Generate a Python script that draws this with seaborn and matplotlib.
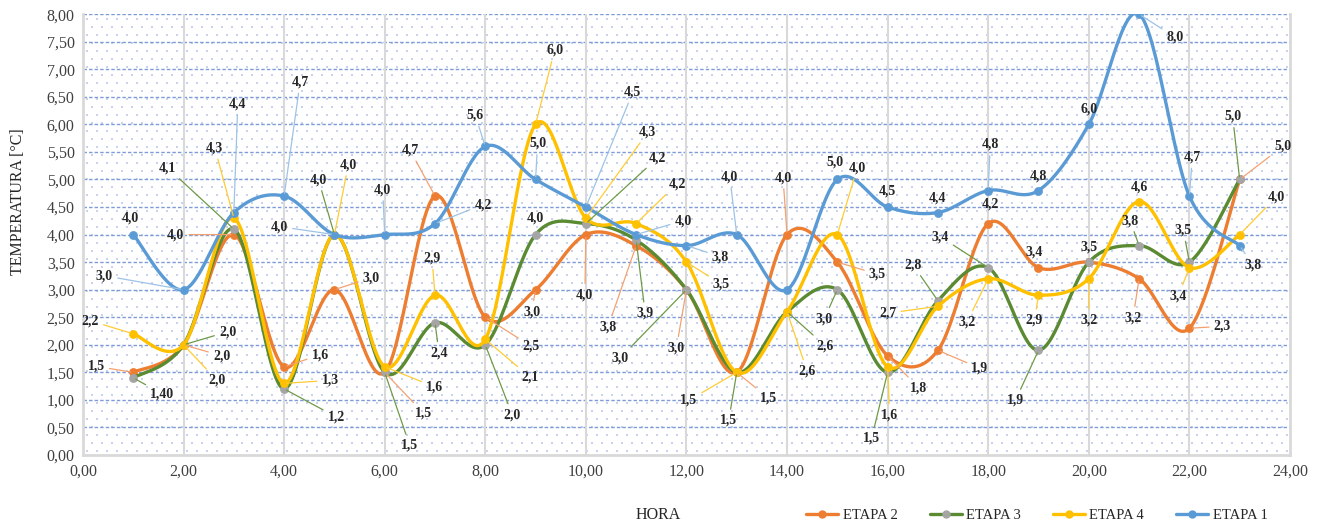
import numpy as np
import pandas as pd
import matplotlib
matplotlib.use("Agg")
import matplotlib.pyplot as plt
from matplotlib.lines import Line2D
from matplotlib.ticker import FuncFormatter, MultipleLocator
import seaborn as sns

# ---- data -------------------------------------------------------------
hours = list(range(1, 24))
etapa_1 = [4.0, 3.0, 4.4, 4.7, 4.0, 4.0, 4.2, 5.6, 5.0, 4.5, 4.0, 3.8,
           4.0, 3.0, 5.0, 4.5, 4.4, 4.8, 4.8, 6.0, 8.0, 4.7, 3.8]
etapa_2 = [1.5, 2.0, 4.0, 1.6, 3.0, 1.5, 4.7, 2.5, 3.0, 4.0, 3.8, 3.0,
           1.5, 4.0, 3.5, 1.8, 1.9, 4.2, 3.4, 3.5, 3.2, 2.3, 5.0]
etapa_3 = [1.40, 2.0, 4.1, 1.2, 4.0, 1.5, 2.4, 2.0, 4.0, 4.2, 3.9, 3.0,
           1.5, 2.6, 3.0, 1.5, 2.8, 3.4, 1.9, 3.5, 3.8, 3.5, 5.0]
etapa_4 = [2.2, 2.0, 4.3, 1.3, 4.0, 1.6, 2.9, 2.1, 6.0, 4.3, 4.2, 3.5,
           1.5, 2.6, 4.0, 1.6, 2.7, 3.2, 2.9, 3.2, 4.6, 3.4, 4.0]
series_names = ["ETAPA 2", "ETAPA 3", "ETAPA 4", "ETAPA 1"]

# ---- styling ----------------------------------------------------------
line_colors = {"ETAPA 1": "#5B9BD5", "ETAPA 2": "#ED7D31",
               "ETAPA 3": "#5A8A32", "ETAPA 4": "#FFC000"}
marker_colors = {"ETAPA 1": "#5B9BD5", "ETAPA 2": "#ED7D31",
                 "ETAPA 3": "#A5A5A5", "ETAPA 4": "#FFC000"}
leader_colors = {"ETAPA 1": "#9DC3E6", "ETAPA 2": "#F4A171",
                 "ETAPA 3": "#6E9A48", "ETAPA 4": "#FFCB33"}

# data-label offsets in pixels (dx, dy up); None = no label
label_offsets = {
    "ETAPA 1": [(-3, 17), (-79, 14), (4, 109), (16, 114), (-55, 8), (-2, 45),
                (48, 19), (-10, 31), (2, 36), (47, 115), (47, 14), (34, -11),
                (-7, 58), None, (-2, 17), (0, 16), (0, 15), (2, 46), (0, 14),
                (0, 15), (36, -23), (3, 39), (13, -19)],
    "ETAPA 2": [(-37, 6), (38, -11), (-58, 0), (36, 12), (37, 12), (39, -41),
                (-25, 46), (46, -29), (-4, -22), (-1, -60), (-28, -81),
                (-10, -58), (32, -26), (-4, 57), (40, -12), (31, -32),
                (42, -18), (2, 20), (-4, 16), None, (-6, -39), (33, 2),
                (43, 33)],
    "ETAPA 3": [(29, -16), (44, 13), (-66, 61), (52, -28), (-16, 55),
                (25, -73), (4, -30), (27, -70), (0, 17), (72, 66), (9, -73),
                (-66, -68), (-8, -48), (38, -34), (-13, -29), (-16, -66),
                (-25, 36), (-48, 31), (-23, -50), (0, 15), (-9, 25), (-6, 32),
                (-7, 63)],
    "ETAPA 4": [(-43, 13), (33, -35), (-19, 70), (46, 3), (14, 70), (50, -20),
                (-3, 37), (45, -38), (19, 74), (62, 86), (41, 40), (35, -22),
                (-48, -28), (20, -59), (20, 67), (2, -48), (-50, -7),
                (-21, -43), (-4, -25), (0, -41), (0, 15), (-11, -28),
                (37, 38)],
}
label_decimals = {("ETAPA 3", 0): 2}

df = pd.DataFrame({"HORA": hours, "ETAPA 1": etapa_1, "ETAPA 2": etapa_2,
                   "ETAPA 3": etapa_3, "ETAPA 4": etapa_4})


def smooth_curve(x, y, steps=30):
    """Cubic Bezier smoothing through every point (spreadsheet style)."""
    pts = np.column_stack([x, y]).astype(float)
    out = [pts[0]]
    t = np.linspace(0, 1, steps + 1)[1:, None]
    for i in range(len(pts) - 1):
        p0 = pts[i - 1] if i > 0 else pts[i]
        p1, p2 = pts[i], pts[i + 1]
        p3 = pts[i + 2] if i + 2 < len(pts) else pts[i + 1]
        c1 = p1 + (p2 - p0) / 6.0
        c2 = p2 - (p3 - p1) / 6.0
        seg = ((1 - t) ** 3) * p1 + 3 * ((1 - t) ** 2) * t * c1 \
            + 3 * (1 - t) * (t ** 2) * c2 + (t ** 3) * p2
        out.extend(seg)
    return np.array(out)


sns.set_theme(style="white")
plt.rcParams["font.family"] = ["Liberation Serif", "DejaVu Serif"]

W_PX, H_PX = 1321, 525
fig = plt.figure(figsize=(W_PX / 100, H_PX / 100), dpi=100)
ax = fig.add_axes([0.0628, 0.1333, 0.9137, 0.8397])
ax.patch.set_facecolor("white")

# fine dotted plot-area fill (staggered dot pattern)
ax_w = 0.9137 * W_PX
ax_h = 0.8397 * H_PX
dot_x, dot_y = [], []
for r, yy in enumerate(np.arange(4, ax_h, 8.0)):
    shift = 5.0 if r % 2 else 0.0
    for xx in np.arange(4 + shift, ax_w, 10.0):
        dot_x.append(xx / ax_w)
        dot_y.append(yy / ax_h)
ax.scatter(dot_x, dot_y, s=1.1, marker="s", color="#C8D4EE", linewidths=0,
           transform=ax.transAxes, zorder=0.2)

ax.set_xlim(0, 24)
ax.set_ylim(0, 8)
ax.xaxis.set_major_locator(MultipleLocator(2))
ax.yaxis.set_major_locator(MultipleLocator(0.5))
fmt = FuncFormatter(lambda v, _: f"{v:.2f}".replace(".", ","))
ax.xaxis.set_major_formatter(fmt)
ax.yaxis.set_major_formatter(fmt)

ax.grid(False)
for yv in np.arange(0.5, 8.01, 0.5):
    ax.axhline(yv, color="#7E9BD8", lw=1.0, ls=(0, (2.5, 1.5)), zorder=0.5)
for xv in range(2, 24, 2):
    ax.axvline(xv, color="#D9D9D9", lw=1.5, zorder=0.6)

for side in ["left", "bottom", "right"]:
    ax.spines[side].set_color("#D9D9D9")
    ax.spines[side].set_linewidth(2)
ax.spines["top"].set_visible(False)
ax.tick_params(axis="both", length=0, labelsize=11.5, colors="#404040", pad=6)

for k, name in enumerate(series_names):
    vals = df[name].to_numpy()
    curve = smooth_curve(df["HORA"].to_numpy(), vals)
    sns.lineplot(x=curve[:, 0], y=curve[:, 1], ax=ax, color=line_colors[name],
                 lw=2.4, sort=False, estimator=None, zorder=3 + k)
    sns.scatterplot(x=df["HORA"], y=df[name], ax=ax, color=marker_colors[name],
                    edgecolor=marker_colors[name], s=34, zorder=3.5 + k,
                    legend=False)

# data labels with leader lines
for name in series_names:
    for i, (h, v) in enumerate(zip(df["HORA"], df[name])):
        off = label_offsets[name][i]
        if off is None:
            continue
        dec = label_decimals.get((name, i), 1)
        txt = f"{v:.{dec}f}".replace(".", ",")
        dist = np.hypot(*off)
        arrow = None
        if dist > 22:
            arrow = dict(arrowstyle="-", color=leader_colors[name], lw=0.9,
                         shrinkA=1, shrinkB=2)
        ax.annotate(txt, xy=(h, v), xytext=off, textcoords="offset pixels",
                    ha="center", va="center", fontsize=10, fontweight="bold",
                    color="#262626", arrowprops=arrow, zorder=10,
                    annotation_clip=False)

ax.set_xlabel("")
ax.set_ylabel("TEMPERATURA [°C]", fontsize=11.5, color="#262626")
ax.yaxis.set_label_coords(-0.047, 0.575)

fig.text(0.498, 0.019, "HORA", ha="center", va="center", fontsize=11.5,
         color="#262626")

handles = [Line2D([0], [0], color=line_colors[n], lw=2.4, marker="o",
                  markersize=5, markerfacecolor=marker_colors[n],
                  markeredgecolor=marker_colors[n]) for n in series_names]
fig.legend(handles, series_names, loc="center", bbox_to_anchor=(0.785, 0.019),
           ncol=4, frameon=False, fontsize=10.5, handlelength=2.2,
           handletextpad=0.3, columnspacing=2.2)

fig.savefig("out.png", dpi=100)
